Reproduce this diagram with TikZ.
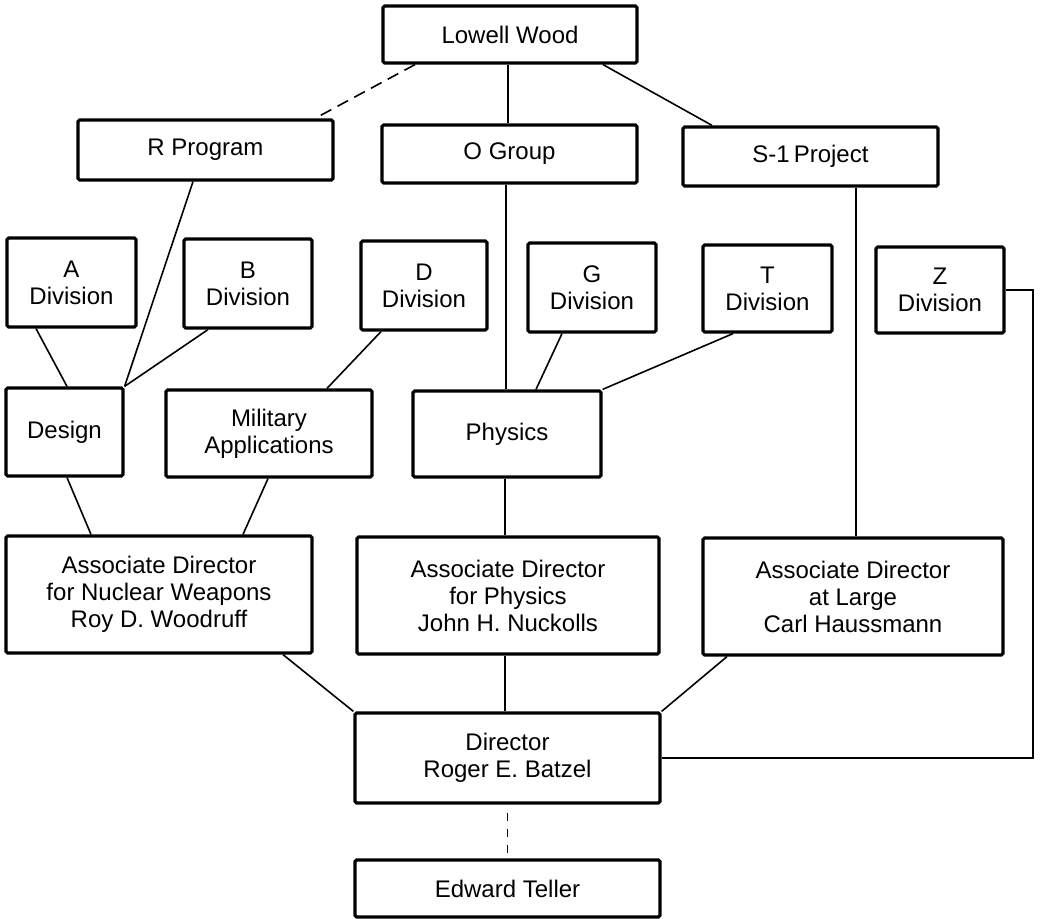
\documentclass[tikz,border=0pt]{standalone}
\usepackage{fontspec}
\setmainfont{Liberation Sans}
\begin{document}
\begin{tikzpicture}[x=0.5pt,y=-0.5pt,
  box/.style={draw, line width=1.6pt, rounded corners=0.8pt, align=center, inner sep=0pt,
    font=\fontsize{12}{13.5}\selectfont},
  conn/.style={line width=0.8pt},
  dconn/.style={line width=0.8pt, dash pattern=on 6pt off 3.5pt}]
\useasboundingbox (0,0) rectangle (1040,919);
% boxes
\node[box, minimum width=127pt, minimum height=28.5pt] (lowell) at (510,34.5) {Lowell Wood};
\node[box, minimum width=127.5pt, minimum height=30pt] (rprog) at (205.5,150) {R Program};
\node[box, minimum width=127.5pt, minimum height=29pt] (ogroup) at (509.5,154) {O Group};
\node[box, minimum width=127.5pt, minimum height=29.5pt] (s1) at (810.5,156.5) {S-1\,Project};
\node[box, minimum width=64.5pt, minimum height=44.5pt] (adiv) at (71.5,282.5) {A\\Division};
\node[box, minimum width=64pt, minimum height=44.5pt] (bdiv) at (248,283.5) {B\\Division};
\node[box, minimum width=63pt, minimum height=44.5pt] (ddiv) at (424,285.5) {D\\Division};
\node[box, minimum width=64pt, minimum height=44.5pt] (gdiv) at (592,287.5) {G\\Division};
\node[box, minimum width=64.5pt, minimum height=43.5pt] (tdiv) at (767.5,288.5) {T\\Division};
\node[box, minimum width=64pt, minimum height=43pt] (zdiv) at (940,290) {Z\\Division};
\node[box, minimum width=58.5pt, minimum height=44pt] (design) at (64.5,432) {Design};
\node[box, minimum width=103pt, minimum height=43.5pt] (milit) at (269,433.5) {Military\\Applications};
\node[box, minimum width=94pt, minimum height=43pt] (phys) at (507,434) {Physics};
\node[box, minimum width=153pt, minimum height=58.5pt] (adnw) at (159,594.5) {Associate Director\\for Nuclear Weapons\\Roy D. Woodruff};
\node[box, minimum width=151pt, minimum height=58.5pt] (adph) at (508,595.5) {Associate Director\\for Physics\\John H. Nuckolls};
\node[box, minimum width=150pt, minimum height=58.5pt] (adal) at (853,596.5) {Associate Director\\at Large\\Carl Haussmann};
\node[box, minimum width=152.5pt, minimum height=45pt] (dir) at (507.5,758) {Director\\Roger E. Batzel};
\node[box, minimum width=152.5pt, minimum height=28.5pt] (teller) at (507.5,888.5) {Edward Teller};
% connectors
\draw[dconn] (415,0 |- lowell.south) -- (315,0 |- rprog.north);
\draw[conn] (508,0 |- lowell.south) -- (508,0 |- ogroup.north);
\draw[conn] (603,0 |- lowell.south) -- (712,0 |- s1.north);
\draw[conn] (193,0 |- rprog.south) -- (design.north east);
\draw[conn] (36,0 |- adiv.south) -- (67,0 |- design.north);
\draw[conn] (208,0 |- bdiv.south) -- (design.north east);
\draw[conn] (381,0 |- ddiv.south) -- (327,0 |- milit.north);
\draw[conn] (506,0 |- ogroup.south) -- (506,0 |- phys.north);
\draw[conn] (562,0 |- gdiv.south) -- (536,0 |- phys.north);
\draw[conn] (733,0 |- tdiv.south) -- (phys.north east);
\draw[conn] (856,0 |- s1.south) -- (856,0 |- adal.north);
\draw[conn] (67,0 |- design.south) -- (91,0 |- adnw.north);
\draw[conn] (268,0 |- milit.south) -- (243,0 |- adnw.north);
\draw[conn] (505,0 |- phys.south) -- (505,0 |- adph.north);
\draw[conn] (283,0 |- adnw.south) -- (dir.north west);
\draw[conn] (505,0 |- adph.south) -- (505,0 |- dir.north);
\draw[conn] (727,0 |- adal.south) -- (dir.north east);
\coordinate (zcorner) at (1033,0 |- zdiv.east);
\draw[conn] (dir.east) -| (zcorner) -- (zdiv.east);
\draw[line width=0.8pt, dash pattern=on 4pt off 4pt, dash phase=4pt] (dir.south) -- (teller.north);
\end{tikzpicture}
\end{document}
